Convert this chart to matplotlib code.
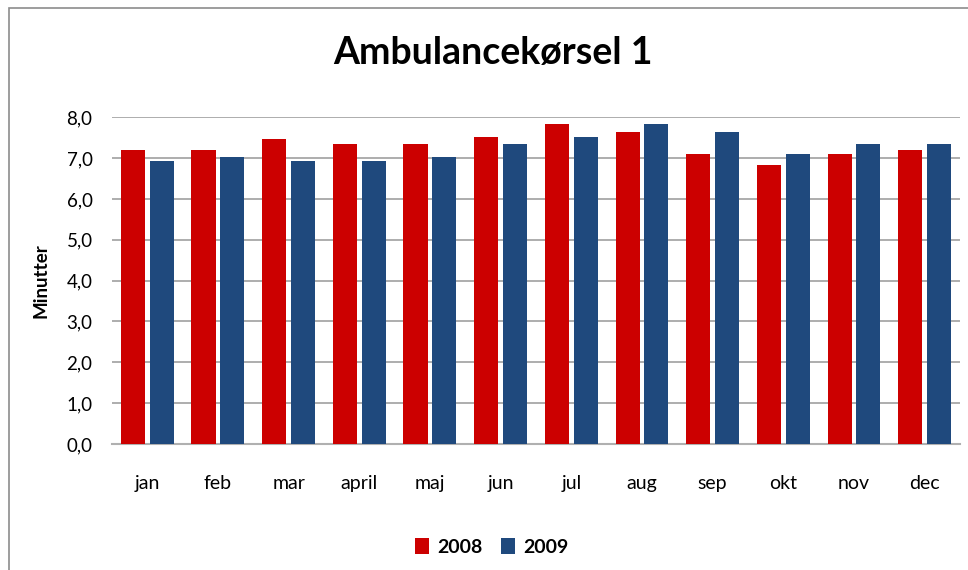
import numpy as np
import matplotlib.pyplot as plt
from matplotlib.patches import Rectangle

maaneder = ["jan", "feb", "mar", "april", "maj", "jun",
            "jul", "aug", "sep", "okt", "nov", "dec"]
aar_2008 = [7.20, 7.20, 7.47, 7.35, 7.35, 7.52, 7.84, 7.64, 7.10, 6.83, 7.10, 7.20]
aar_2009 = [6.94, 7.02, 6.94, 6.94, 7.02, 7.35, 7.52, 7.84, 7.64, 7.10, 7.35, 7.35]
yticks = np.arange(0, 9, 1)

plt.rcParams['font.family'] = ['Lato', 'DejaVu Sans']

fig = plt.figure(figsize=(9.68, 5.7), dpi=100)
ax = fig.add_axes([112/968, 1 - 444/570, 848/968, (444 - 117.3)/570])

# ramme rundt om diagrammet
fig.patches.append(Rectangle((9/968, -0.1), 1.2, 1 - 8/570 + 0.1, transform=fig.transFigure,
                             fill=False, edgecolor='#8c8c8c', linewidth=1.2))

x = np.arange(len(maaneder))
w = 0.34
ax.bar(x - 0.205, aar_2008, w, color='#cc0000', label='2008', zorder=3)
ax.bar(x + 0.205, aar_2009, w, color='#1f497d', label='2009', zorder=3)

ax.set_xlim(-0.5, len(maaneder) - 0.5)
ax.set_ylim(0, 8)
ax.set_yticks(yticks)
ax.set_yticklabels(["{:.1f}".format(v).replace('.', ',') for v in yticks], fontsize=13.5)
ax.set_xticks(x)
ax.set_xticklabels(maaneder, fontsize=14)
ax.tick_params(axis='both', length=0)
ax.tick_params(axis='y', pad=14)
ax.tick_params(axis='x', pad=22)
ax.grid(axis='y', color='#a0a0a0', linewidth=1.2, zorder=0)
for s in ['top', 'right', 'left']:
    ax.spines[s].set_visible(False)
ax.spines['bottom'].set_color('#b0b0b0')
ax.spines['bottom'].set_linewidth(1.5)

ax.set_ylabel('Minutter', fontsize=13.5, fontweight='bold', labelpad=12)
fig.text(0.509, 1 - 53/570, 'Ambulancekørsel 1', ha='center', va='center',
         fontsize=27, fontweight='bold')

fig.legend(loc='center', bbox_to_anchor=(0.508, 1 - 547/570), ncol=2, frameon=False,
           prop={'weight': 'bold', 'size': 14}, handlelength=0.7, handleheight=0.9,
           handletextpad=0.4, columnspacing=1.0)

fig.savefig('out.png', dpi=100)
